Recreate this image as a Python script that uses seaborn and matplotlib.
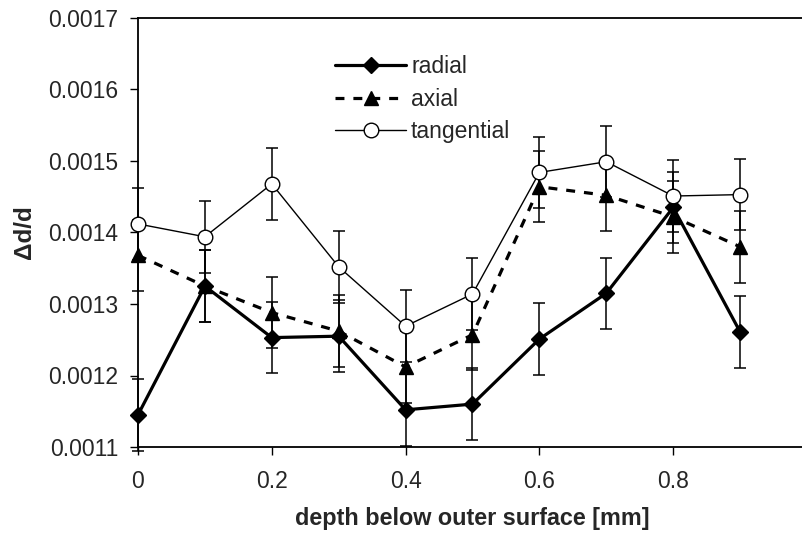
import numpy as np
import pandas as pd
import matplotlib
matplotlib.use('Agg')
import matplotlib.pyplot as plt
import seaborn as sns
from matplotlib.ticker import FormatStrFormatter, FixedLocator

# data
depth = [0.0, 0.1, 0.2, 0.3, 0.4, 0.5, 0.6, 0.7, 0.8, 0.9]
radial = [0.001145, 0.001325, 0.001253, 0.001255, 0.001152, 0.001160, 0.001251, 0.001315, 0.001435, 0.001261]
axial = [0.001368, 0.001325, 0.001288, 0.001262, 0.001212, 0.001257, 0.001464, 0.001452, 0.001422, 0.001380]
tangential = [0.001412, 0.001394, 0.001468, 0.001352, 0.001269, 0.001314, 0.001484, 0.001499, 0.001451, 0.001453]
err = 0.00005

x_ticks = [0, 0.2, 0.4, 0.6, 0.8, 1.0]
y_ticks = [0.0011, 0.0012, 0.0013, 0.0014, 0.0015, 0.0016, 0.0017]

sns.set_style("white")
plt.rcParams['font.family'] = ['Liberation Sans', 'DejaVu Sans']

fig = plt.figure(figsize=(8.03, 5.34), dpi=100)
ax = fig.add_axes([138 / 803, 1 - 447 / 534, (807 - 138) / 803, (447 - 18) / 534])

series = [
    ("radial", radial, dict(lw=2.3, marker="D", markersize=8, markerfacecolor="black")),
    ("axial", axial, dict(lw=2.3, dashes=(2.8, 2.8), marker="^", markersize=10.5, markerfacecolor="black")),
    ("tangential", tangential, dict(lw=1.0, marker="o", markersize=10.5, markerfacecolor="white")),
]

handles = []
for name, vals, style in series:
    ax.errorbar(depth, vals, yerr=err, fmt="none", ecolor="black", elinewidth=1.1,
                capsize=4.5, capthick=1.1, zorder=2, clip_on=False)
for name, vals, style in series:
    df = pd.DataFrame({"depth": depth, "value": vals})
    sns.lineplot(data=df, x="depth", y="value", ax=ax, color="black",
                 markeredgecolor="black", markeredgewidth=1.0, label=name,
                 zorder=3, clip_on=False, legend=False, **style)
    handles.append(ax.lines[-1])

ax.set_xlim(0, 1.0)
ax.set_ylim(0.0011, 0.0017)
ax.xaxis.set_major_locator(FixedLocator(x_ticks))
ax.yaxis.set_major_locator(FixedLocator(y_ticks))
ax.xaxis.set_major_formatter(FormatStrFormatter('%g'))
ax.yaxis.set_major_formatter(FormatStrFormatter('%.4f'))
ax.tick_params(axis='both', direction='out', length=6, width=1.0, color='black',
               labelsize=16.5, bottom=True, left=True)
ax.tick_params(axis='x', pad=10.8)
ax.tick_params(axis='y', pad=8)

for side in ['left', 'bottom', 'top']:
    ax.spines[side].set_visible(True)
    ax.spines[side].set_color('black')
    ax.spines[side].set_linewidth(1.3)
ax.spines['right'].set_visible(False)

ax.set_xlabel("depth below outer surface [mm]", fontsize=16.8, fontweight='bold', labelpad=10)
ax.set_ylabel("Δd/d", fontsize=17.5, fontweight='bold', labelpad=9)

ax.legend(handles=handles, labels=[s[0] for s in series], loc='upper left',
          bbox_to_anchor=(324 / 803, 1 - 44 / 534), bbox_transform=fig.transFigure,
          frameon=False, fontsize=16.5, handlelength=3.1, handletextpad=0.2,
          labelspacing=0.4, borderpad=0)

plt.savefig("out.png", dpi=100)
